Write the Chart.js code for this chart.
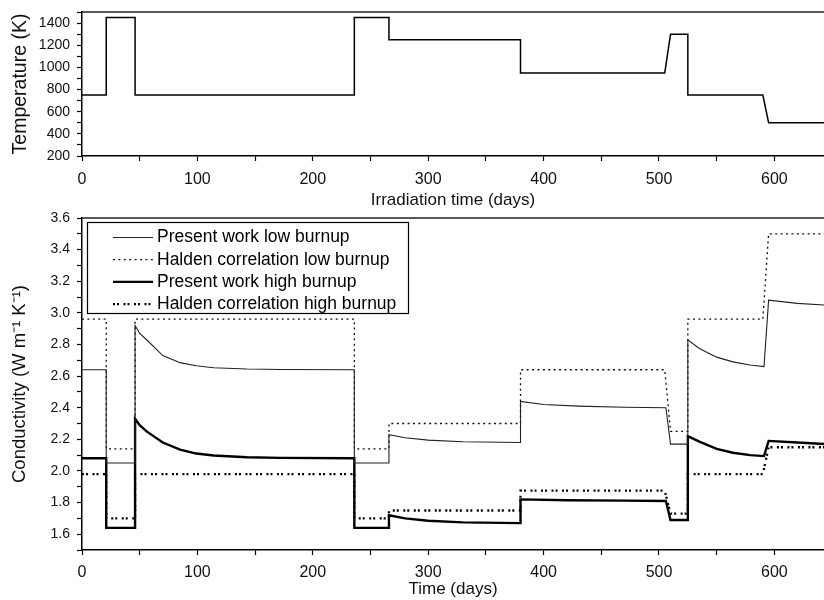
<!DOCTYPE html>
<html>
<head>
<meta charset="utf-8">
<script src="https://cdn.jsdelivr.net/npm/chart.js@4.4.0/dist/chart.umd.min.js"></script>
<style>
  body { margin: 0; background: #fff; }
  canvas { position: absolute; left: 0; }
  #tempChart { top: 0; }
  #condChart { top: 212px; }
</style>
</head>
<body>
<canvas id="tempChart" width="824" height="212"></canvas>
<canvas id="condChart" width="824" height="388"></canvas>
<script>
// x range shared by both panels (days)
const xMax = 643

// top panel: irradiation temperature history
const tempDays = [0, 21, 21, 46, 46, 236, 236, 266, 266, 380, 380, 505, 510, 525, 525, 590, 595, 643]
const tempK    = [750, 750, 1450, 1450, 750, 750, 1450, 1450, 1250, 1250, 950, 950, 1300, 1300, 750, 750, 500, 500]

// bottom panel: conductivity
const lowDays = [0, 21, 21, 46, 46, 50, 56, 70, 85, 99, 114, 143, 172, 236, 236, 266, 266, 280, 300, 330, 380, 380, 400, 430, 470, 506, 510, 525, 525, 535, 550, 564, 579, 591, 595, 620, 643]
const presentLow = [2.64, 2.64, 2.05, 2.05, 2.92, 2.87, 2.83, 2.73, 2.685, 2.665, 2.653, 2.645, 2.642, 2.64, 2.05, 2.05, 2.23, 2.21, 2.195, 2.185, 2.18, 2.44, 2.42, 2.41, 2.403, 2.40, 2.17, 2.17, 2.83, 2.775, 2.72, 2.69, 2.67, 2.66, 3.08, 3.06, 3.05]

const highDays = [0, 21, 21, 46, 46, 50, 56, 70, 85, 99, 114, 143, 172, 236, 236, 266, 266, 280, 300, 330, 380, 380, 420, 470, 506, 510, 525, 525, 535, 550, 564, 579, 591, 595, 620, 643]
const presentHigh = [2.08, 2.08, 1.64, 1.64, 2.33, 2.29, 2.25, 2.18, 2.135, 2.11, 2.098, 2.087, 2.083, 2.08, 1.64, 1.64, 1.72, 1.70, 1.685, 1.675, 1.67, 1.82, 1.815, 1.812, 1.81, 1.69, 1.69, 2.22, 2.185, 2.14, 2.115, 2.10, 2.094, 2.19, 2.18, 2.17]

const haldenDays = [0, 21, 21, 46, 46, 236, 236, 266, 266, 380, 380, 505, 510, 525, 525, 590, 595, 643]
const haldenLow  = [2.96, 2.96, 2.14, 2.14, 2.96, 2.96, 2.14, 2.14, 2.30, 2.30, 2.64, 2.64, 2.25, 2.25, 2.96, 2.96, 3.50, 3.50]
const haldenHigh = [1.98, 1.98, 1.70, 1.70, 1.98, 1.98, 1.70, 1.70, 1.75, 1.75, 1.875, 1.875, 1.73, 1.73, 1.98, 1.98, 2.15, 2.15]

const seriesNames = ['Present work low burnup', 'Halden correlation low burnup', 'Present work high burnup', 'Halden correlation high burnup']

Chart.defaults.font.family = '"Liberation Sans", Arial, sans-serif'
Chart.defaults.color = '#111'

function pts(xs, ys) {
  return xs.map((x, i) => ({ x: x, y: ys[i] }))
}

function xAxis(title, labelPad, titlePad, h) {
  return {
    type: 'linear', min: 0, max: xMax,
    border: { color: '#000', width: 1.5 },
    grid: { drawOnChartArea: false, tickLength: 5, tickColor: '#000', tickWidth: 1.2 },
    ticks: {
      stepSize: 50, includeBounds: false, autoSkip: false, maxRotation: 0,
      padding: labelPad, font: { size: 16 }, color: '#111',
      callback: v => v % 100 === 0 ? String(v) : ''
    },
    title: { display: true, text: title, font: { size: 17 }, color: '#111', padding: { top: 0, bottom: titlePad } },
    afterFit: s => { s.height = h; s.paddingLeft = 0; s.paddingRight = 0 }
  }
}

function yAxis(min, max, step, labelEvery, digits, title, titleSize) {
  return {
    min: min, max: max,
    border: { color: '#000', width: 1.5 },
    grid: { drawOnChartArea: false, tickLength: 5, tickColor: '#000', tickWidth: 1.2 },
    ticks: {
      stepSize: step, autoSkip: false, padding: 7, font: { size: 14 }, color: '#111',
      callback: v => Math.round(v / step) % labelEvery === 0 ? v.toFixed(digits) : ''
    },
    title: { display: true, text: title, font: { size: titleSize }, color: '#111', padding: { top: 9, bottom: 0 } },
    afterFit: s => { s.width = 82; s.paddingTop = 0; s.paddingBottom = 0 }
  }
}

// top border of each panel
const frameTop = {
  id: 'frameTop',
  afterDraw(chart) {
    const a = chart.chartArea, ctx = chart.ctx
    ctx.save()
    ctx.strokeStyle = '#222'
    ctx.lineWidth = 1.6
    ctx.beginPath()
    ctx.moveTo(a.left, a.top)
    ctx.lineTo(a.right, a.top)
    ctx.stroke()
    ctx.restore()
  }
}

// boxed legend in the upper left of the conductivity panel
const legendBox = {
  id: 'legendBox',
  afterDraw(chart) {
    const ctx = chart.ctx
    ctx.save()
    ctx.fillStyle = '#fff'
    ctx.strokeStyle = '#000'
    ctx.lineWidth = 1.2
    ctx.fillRect(87.5, 10.5, 321, 91)
    ctx.strokeRect(87.5, 10.5, 321, 91)
    ctx.font = '17.5px "Liberation Sans", Arial, sans-serif'
    ctx.textBaseline = 'middle'
    chart.data.datasets.forEach((ds, i) => {
      const y = 25.5 + i * 22.2
      ctx.beginPath()
      ctx.setLineDash(ds.borderDash || [])
      ctx.lineWidth = ds.borderWidth
      ctx.strokeStyle = ds.borderColor
      ctx.moveTo(113, y)
      ctx.lineTo(153, y)
      ctx.stroke()
      ctx.setLineDash([])
      ctx.fillStyle = '#000'
      ctx.fillText(ds.label, 157, y)
    })
    ctx.restore()
  }
}

new Chart(document.getElementById('tempChart').getContext('2d'), {
  type: 'line',
  data: {
    datasets: [{
      label: 'Temperature',
      data: pts(tempDays, tempK),
      borderColor: '#000', borderWidth: 1.5,
      pointRadius: 0, fill: false, tension: 0
    }]
  },
  options: {
    responsive: false, animation: false,
    layout: { padding: { top: 12, right: 0, left: 0, bottom: 0 } },
    scales: {
      x: xAxis('Irradiation time (days)', 9, 1, 56),
      y: yAxis(200, 1500, 100, 2, 0, 'Temperature (K)', 19.5)
    },
    plugins: { legend: { display: false }, tooltip: { enabled: false } }
  },
  plugins: [frameTop]
})

new Chart(document.getElementById('condChart').getContext('2d'), {
  type: 'line',
  data: {
    datasets: [{
      label: seriesNames[0],
      data: pts(lowDays, presentLow),
      borderColor: '#222', borderWidth: 1.1,
      pointRadius: 0, fill: false, tension: 0
    }, {
      label: seriesNames[1],
      data: pts(haldenDays, haldenLow),
      borderColor: '#111', borderWidth: 1.3, borderDash: [2, 3.4],
      pointRadius: 0, fill: false, tension: 0
    }, {
      label: seriesNames[2],
      data: pts(highDays, presentHigh),
      borderColor: '#000', borderWidth: 2.4,
      pointRadius: 0, fill: false, tension: 0
    }, {
      label: seriesNames[3],
      data: pts(haldenDays, haldenHigh),
      borderColor: '#000', borderWidth: 2.3, borderDash: [2, 2, 2, 4.5],
      pointRadius: 0, fill: false, tension: 0
    }]
  },
  options: {
    responsive: false, animation: false,
    layout: { padding: { top: 6, right: 0, left: 0, bottom: 0 } },
    scales: {
      x: xAxis('Time (days)', 8, 0, 50),
      y: yAxis(1.5, 3.6, 0.1, 2, 1, 'Conductivity (W m\u207B\u00B9 K\u207B\u00B9)', 18.5)
    },
    plugins: { legend: { display: false }, tooltip: { enabled: false } }
  },
  plugins: [frameTop, legendBox]
})
</script>
</body>
</html>
